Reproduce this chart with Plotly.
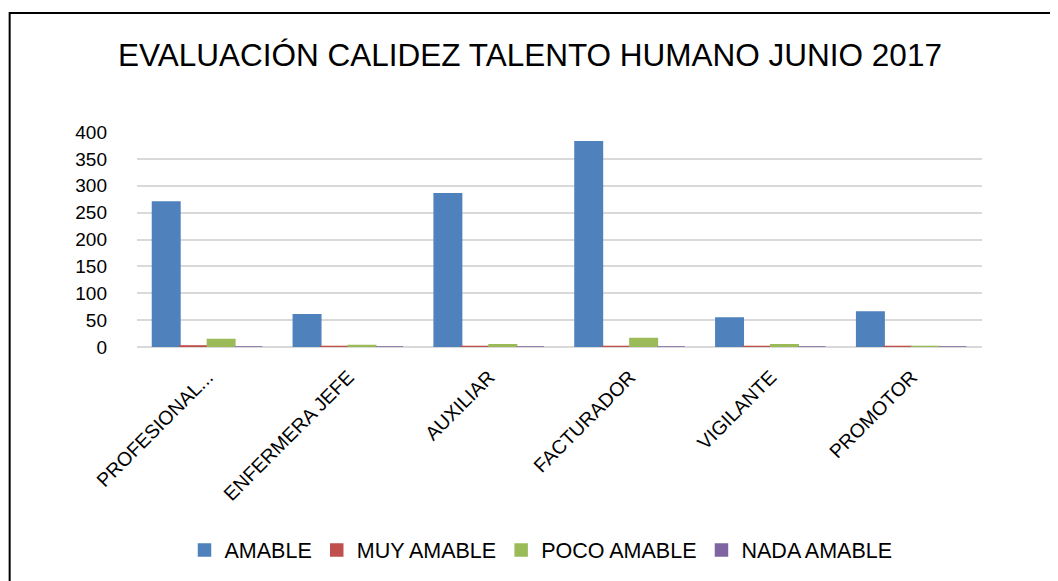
import plotly.graph_objects as go

categories = ["PROFESIONAL...", "ENFERMERA JEFE", "AUXILIAR", "FACTURADOR", "VIGILANTE", "PROMOTOR"]
amable = [270, 60, 285, 382, 54, 65]
muy_amable = [2, 1, 1, 1, 1, 1]
poco_amable = [14, 3, 4, 16, 4, 1]
nada_amable = [0, 0, 0, 0, 0, 0]

series = [
    ("AMABLE", amable, "#4F81BD"),
    ("MUY AMABLE", muy_amable, "#C0504D"),
    ("POCO AMABLE", poco_amable, "#9BBB59"),
    ("NADA AMABLE", nada_amable, "#8064A2"),
]

# the page body adds an 8px margin, so figure coordinates = screen - 8
W, H = 1050, 573
L, R, T, B = 128.5, 75.5, 124, 234  # screen plot area: x 136.5..982.5, y 132..347

fig = go.Figure()
for name, vals, col in series:
    fig.add_trace(go.Bar(
        x=categories, y=vals, name=name,
        marker=dict(color=col, line=dict(color=col, width=1.5)),
    ))

FONT = "Liberation Sans, Arial, sans-serif"
pw = W - L - R
ph = H - T - B

def px_x(px):
    return (px - L) / pw

def px_y(py):
    return (H - B - py) / ph

fig.update_layout(
    width=W, height=H,
    margin=dict(l=L, r=R, t=T, b=B),
    paper_bgcolor="white", plot_bgcolor="white",
    barmode="group", bargap=0.22, bargroupgap=0,
    font=dict(family=FONT, color="#000000"),
    title=dict(text="EVALUACIÓN CALIDEZ TALENTO HUMANO JUNIO 2017",
               x=(530 - 8) / W, xanchor="center", xref="container",
               y=1 - 47 / H, yanchor="middle", yref="container",
               font=dict(size=31.5, family=FONT, color="#000000")),
    showlegend=True,
    legend=dict(orientation="h", x=(541 - 8) / W, xanchor="center", xref="container",
                y=1 - 542 / H, yanchor="middle", yref="container",
                font=dict(size=21.5, family=FONT, color="#000000"),
                traceorder="normal", itemwidth=30),
    xaxis=dict(tickangle=-45, tickfont=dict(size=19.5, family=FONT, color="#000000"),
               showgrid=False, showline=False, ticks="", ticklabelstandoff=14),
    yaxis=dict(range=[0, 400], dtick=50, tickfont=dict(size=19, family=FONT, color="#000000"),
               showgrid=True, gridcolor="#D9D9D9", gridwidth=2, zeroline=True,
               zerolinecolor="#D9D9D9", zerolinewidth=2, showline=False,
               ticklabelstandoff=29),
    shapes=[dict(type="rect", xref="paper", yref="paper",
                 x0=px_x(1), x1=px_x(1080), y0=px_y(600), y1=px_y(5),
                 line=dict(color="#000000", width=2), fillcolor="rgba(0,0,0,0)", layer="above")],
)

fig.write_html("out.html")
